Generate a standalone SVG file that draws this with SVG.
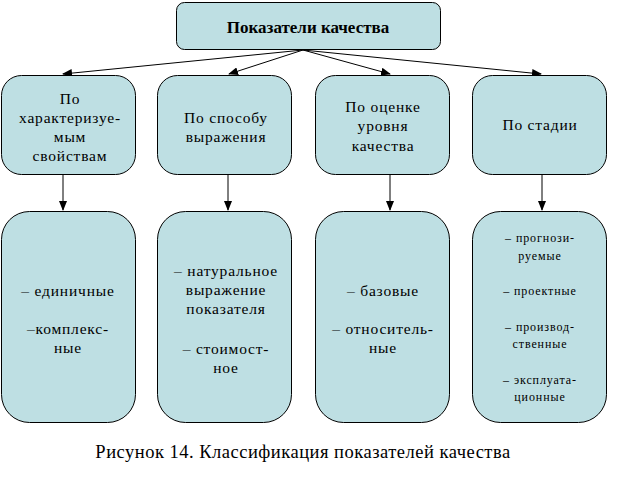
<svg xmlns="http://www.w3.org/2000/svg" width="623" height="478" viewBox="0 0 623 478" font-family="Liberation Serif, Times New Roman, serif">
<defs>
<marker id="ah" markerWidth="10" markerHeight="8" refX="9" refY="4" orient="auto" markerUnits="userSpaceOnUse">
<path d="M0,0 L10,4 L0,8 Z" fill="#000"/>
</marker>
<style>
.box{fill:#BEDFE3;stroke:#000;stroke-width:1}
.t{fill:#000;text-anchor:middle;dominant-baseline:central;font-family:'Liberation Serif',serif}
.m{font-size:31px;letter-spacing:1.6px}
.s{font-size:24px;letter-spacing:1.8px}
.c{stroke:#000;stroke-width:1;fill:none;marker-end:url(#ah)}
</style>
</defs>
<rect width="623" height="478" fill="#fff"/>
<g id="connectors">
<line class="c" x1="303" y1="50" x2="63" y2="74"/>
<line class="c" x1="303" y1="50" x2="229" y2="74"/>
<line class="c" x1="303" y1="50" x2="390" y2="74"/>
<line class="c" x1="303" y1="50" x2="541" y2="74"/>
<line class="c" x1="63" y1="174" x2="63" y2="210"/>
<line class="c" x1="228" y1="174" x2="228" y2="210"/>
<line class="c" x1="390" y1="174" x2="390" y2="210"/>
<line class="c" x1="542" y1="174" x2="542" y2="210"/>
</g>
<g id="root">
<rect class="box" x="176.5" y="2.5" width="264" height="47" rx="8"/>
<text class="t" x="308" y="27" style="font-size:17px;font-weight:bold">Показатели качества</text>
</g>
<g id="n1">
<rect class="box" x="1.5" y="75.5" width="134" height="99" rx="20"/>
<g transform="scale(0.5)" class="t m">
<text x="140" y="196">По</text>
<text x="140" y="234">характеризуе-</text>
<text x="140" y="272">мым</text>
<text x="140" y="310">свойствам</text>
</g>
</g>
<g id="n2">
<rect class="box" x="157.5" y="75.5" width="134" height="99" rx="20"/>
<g transform="scale(0.5)" class="t m">
<text x="452" y="234">По способу</text>
<text x="452" y="272">выражения</text>
</g>
</g>
<g id="n3">
<rect class="box" x="315.5" y="75.5" width="134" height="99" rx="20"/>
<g transform="scale(0.5)" class="t m">
<text x="766" y="212">По оценке</text>
<text x="766" y="250">уровня</text>
<text x="766" y="290">качества</text>
</g>
</g>
<g id="n4">
<rect class="box" x="472.5" y="75.5" width="134" height="99" rx="20"/>
<g transform="scale(0.5)" class="t m">
<text x="1080" y="248">По стадии</text>
</g>
</g>
<g id="l1">
<rect class="box" x="1.5" y="211.5" width="134" height="211" rx="28"/>
<g transform="scale(0.5)" class="t m">
<text x="136" y="580">– единичные</text>
<text x="136" y="656">–комплекс-</text>
<text x="136" y="694">ные</text>
</g>
</g>
<g id="l2">
<rect class="box" x="157.5" y="211.5" width="134" height="211" rx="28"/>
<g transform="scale(0.5)" class="t m">
<text x="452" y="540">– натуральное</text>
<text x="452" y="578">выражение</text>
<text x="452" y="616">показателя</text>
<text x="452" y="696">– стоимост-</text>
<text x="452" y="734">ное</text>
</g>
</g>
<g id="l3">
<rect class="box" x="315.5" y="211.5" width="134" height="211" rx="28"/>
<g transform="scale(0.5)" class="t m">
<text x="766" y="580">– базовые</text>
<text x="766" y="656">– относитель-</text>
<text x="766" y="694">ные</text>
</g>
</g>
<g id="l4">
<rect class="box" x="472.5" y="211.5" width="134" height="211" rx="28"/>
<g transform="scale(0.5)" class="t s">
<text x="1080" y="476">– прогнози-</text>
<text x="1080" y="512">руемые</text>
<text x="1080" y="582">– проектные</text>
<text x="1080" y="654">– производ-</text>
<text x="1080" y="688">ственные</text>
<text x="1080" y="760">– эксплуата-</text>
<text x="1080" y="794">ционные</text>
</g>
</g>
<text class="t" x="303" y="452" style="font-size:18.5px;letter-spacing:0.5px">Рисунок 14. Классификация показателей качества</text>
</svg>
